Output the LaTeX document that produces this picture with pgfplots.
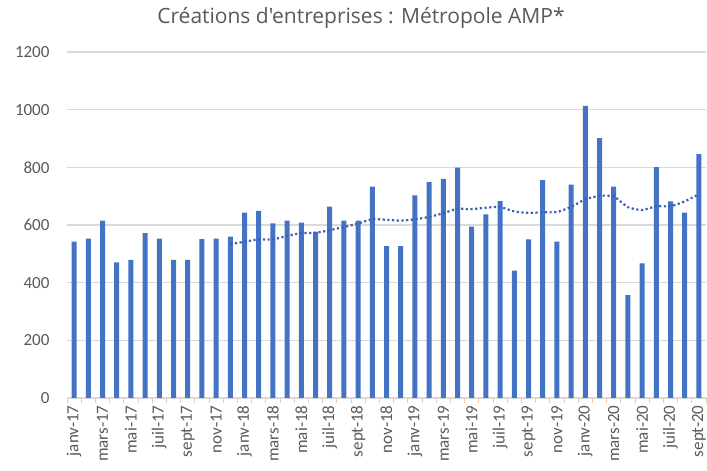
\documentclass[border=0pt]{standalone}
\usepackage{fontspec}
\setmainfont{Carlito}
\newfontfamily\titlefont{Open Sans}
\usepackage{pgfplots}
\pgfplotsset{compat=1.18}
\usepackage{pgfplotstable}
\definecolor{barblue}{HTML}{4472C4}
\definecolor{trendblue}{HTML}{3A62B0}
\definecolor{gridgray}{HTML}{D9D9D9}
\definecolor{labgray}{HTML}{595959}
\definecolor{tickor}{HTML}{F4C7A0}
\pgfplotstableread{
x y
1 542
2 553
3 615
4 470
5 479
6 572
7 553
8 479
9 479
10 551
11 553
12 560
13 643
14 649
15 606
16 615
17 608
18 576
19 664
20 615
21 615
22 733
23 527
24 527
25 703
26 749
27 760
28 799
29 594
30 637
31 683
32 442
33 550
34 756
35 542
36 740
37 1013
38 901
39 733
40 357
41 467
42 801
43 682
44 643
45 846
}\bars
\pgfplotstableread{
x y
12 534
13 542
14 550
15 550
16 562
17 572
18 573
19 582
20 593
21 605
22 620
23 618
24 615
25 620
26 628
27 641
28 656
29 655
30 660
31 662
32 647
33 642
34 644
35 645
36 663
37 689
38 701
39 699
40 662
41 652
42 665
43 665
44 682
45 707
}\trend
\begin{document}
\begin{tikzpicture}[x=1pt,y=1pt]
\useasboundingbox (0,0) rectangle (707,471);
\node[font=\titlefont\fontsize{21}{25}\selectfont, text=labgray] at (361,453) {Créations d'entreprises : Métropole AMP*};
\begin{axis}[
  at={(67pt,73pt)}, anchor=south west,
  scale only axis, width=639pt, height=346pt,
  xmin=0.5, xmax=45.5, ymin=0, ymax=1200,
  ytick={0,200,...,1200},
  ymajorgrids, grid style={gridgray, line width=1.2pt},
  axis line style={draw=none},
  axis x line*=bottom, axis y line*=left,
  y axis line style={draw=none},
  x axis line style={draw=gridgray, line width=1.2pt},
  xtick={1,3,...,45},
  xticklabels={janv-17,mars-17,mai-17,juil-17,sept-17,nov-17,janv-18,mars-18,mai-18,juil-18,sept-18,nov-18,janv-19,mars-19,mai-19,juil-19,sept-19,nov-19,janv-20,mars-20,mai-20,juil-20,sept-20},
  minor xtick={0.5,1.5,...,45.5},
  major tick length=0pt,
  minor tick length=5pt,
  tick align=outside,
  minor tick style={tickor, line width=1pt},
  xticklabel style={rotate=90, anchor=east, font=\fontsize{17}{20}\selectfont, text=labgray, xshift=-4pt},
  yticklabel style={font=\fontsize{17}{20}\selectfont, text=labgray, xshift=-14pt},
  /pgf/number format/assume math mode=true,
  /pgf/number format/1000 sep={},
  clip=false,
]
\addplot[ybar, bar width=5pt, fill=barblue, draw=none] table[x=x,y=y] {\bars};
\addplot[trendblue, line width=2.2pt, dash pattern=on 2.2pt off 2.5pt, smooth, tension=0.4] table[x=x,y=y] {\trend};
\end{axis}
\end{tikzpicture}
\end{document}
